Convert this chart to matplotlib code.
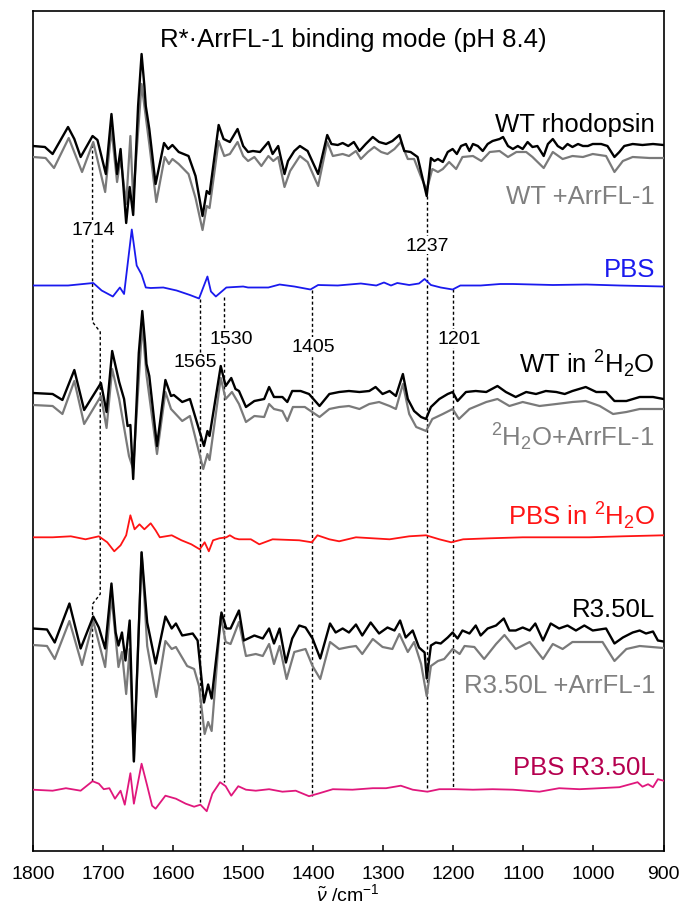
import matplotlib.pyplot as plt

plt.rcParams['font.family'] = ['Liberation Sans', 'DejaVu Sans']
plt.rcParams['mathtext.fontset'] = 'custom'
plt.rcParams['mathtext.rm'] = 'Liberation Sans'
plt.rcParams['mathtext.it'] = 'Liberation Sans:italic'
plt.rcParams['mathtext.default'] = 'regular'

# difference spectra, (wavenumber, dA) pairs, arbitrary units
wt_rho = [(1800, 0), (1783, -1), (1772, -8), (1750, 19), (1741, 7), (1732, -11), (1715, 10),
          (1708, 6), (1696, -28), (1688, 32), (1680, -28), (1675, -3), (1667, -77), (1662, -41),
          (1657, -69), (1650, 40), (1645, 92), (1641, 60), (1639, 40), (1634, 17), (1625, -38),
          (1613, 3), (1607, -3),
          (1601, 1), (1592, -6), (1578, -10), (1568, -30), (1558, -70), (1552, -45), (1548, -48),
          (1535, 21), (1528, 7), (1519, 4), (1508, 17), (1500, 0), (1493, -6), (1486, -5),
          (1476, -6), (1464, 4), (1458, -8), (1450, 0), (1441, -28), (1436, -15), (1427, -5),
          (1419, 0), (1408, -5), (1393, -28), (1380, 11), (1374, 2), (1365, 1), (1358, 3),
          (1350, 0), (1342, 4), (1334, -5), (1325, 2), (1315, 9), (1306, 4), (1296, 2), (1287, 5),
          (1277, 11), (1270, -5), (1261, -6), (1251, -11), (1238, -50), (1232, -12), (1227, -15),
          (1222, -13), (1215, -16), (1208, -6), (1201, -3), (1195, -8), (1189, 0), (1182, 2),
          (1177, -5), (1172, 2), (1165, 0), (1158, -5), (1151, 2), (1144, 5), (1134, 7), (1129, 9),
          (1122, 0), (1115, -3), (1108, 0), (1101, -3), (1094, 4), (1087, -1), (1080, 0),
          (1071, -10), (1065, 2), (1058, 7), (1051, 0), (1044, -3), (1037, 2), (1030, -1),
          (1022, 2), (1015, 0), (1008, 0), (1001, 2), (989, 2), (980, 0), (970, -11), (963, -6),
          (956, 0), (944, 2), (930, 1), (915, 2), (900, 1)]

wt_arr = [(1800, 1), (1782, 0), (1770, -10), (1749, 20), (1730, -14), (1714, 16), (1697, -34),
          (1688, 29), (1680, -24), (1675, 0), (1667, -46), (1661, 22), (1657, -41), (1645, 74),
          (1639, 41), (1634, 14), (1624, -44), (1612, 1), (1606, -6), (1601, -1), (1592, -6),
          (1578, -16), (1568, -40), (1558, -72), (1552, -48), (1548, -50), (1535, 17), (1527, 2),
          (1519, 4), (1508, 16), (1500, 2), (1493, -3), (1484, 1), (1474, -8), (1464, 2),
          (1457, -3), (1450, 1), (1441, -29), (1433, -13), (1419, 2), (1408, -4), (1393, -28),
          (1380, 16), (1372, 2), (1358, 4), (1349, 2), (1339, 7), (1332, -1), (1322, 6),
          (1313, 11), (1303, 6), (1294, 4), (1284, 9), (1275, 16), (1265, -1), (1256, -1),
          (1246, -19), (1238, -32), (1230, -11), (1222, -14), (1215, -11), (1206, -4),
          (1196, -11), (1187, 1), (1172, 2), (1160, -3), (1148, 6), (1134, 7), (1122, 1),
          (1110, 6), (1096, 6), (1087, 1), (1071, -10), (1058, 6), (1044, -1), (1030, 2),
          (1015, 1), (1001, 4), (982, 2), (970, -14), (958, -3), (944, 1), (920, 0), (900, 0)]

pbs = [(1800, 0), (1750, 0), (1714, 2.5), (1702, -5), (1686, -11), (1676, -2), (1670, -8.5),
       (1659, 56), (1652, 20), (1645, 11), (1639, -2), (1632, -2.5), (1614, -2), (1595, -5),
       (1576, -9.5), (1563, -13), (1551, 9), (1546, -6), (1539, -11), (1524, -2), (1500, -1),
       (1493, -2), (1464, -2), (1448, 1), (1427, -1), (1404, -4), (1393, 0.5), (1365, 0),
       (1332, 2), (1310, 0), (1299, 3), (1289, 0), (1280, 2.5), (1263, 0.5), (1249, 2),
       (1241, 6.5), (1232, 0.5), (1218, -2), (1201, -4), (1190, 0), (1161, 0), (1133, 1.5),
       (1115, 1.5), (1058, 0.5), (1010, 1), (963, 0), (900, -1)]

wt_d2o = [(1800, 0), (1772, -1), (1758, -7), (1741, 23), (1727, -17), (1703, 10), (1695, -19),
          (1687, 42), (1677, 11), (1670, -6), (1665, -33), (1661, -32), (1657, -86), (1649, 40),
          (1644, 82), (1640, 50),
          (1638, 29), (1634, 17), (1623, -53), (1611, 13), (1603, -3), (1599, -2), (1587, -9),
          (1576, -6), (1556, -53), (1551, -38), (1548, -43), (1532, 27), (1525, 7), (1517, 15),
          (1511, 4), (1506, 2), (1496, -14), (1484, -8), (1470, -6), (1463, 6), (1456, -4),
          (1444, -4), (1437, -9), (1430, 2), (1418, 2), (1406, -1), (1391, -13), (1377, -1),
          (1363, 1), (1349, 2), (1334, 1), (1320, 2), (1311, 6), (1301, -1), (1291, 2),
          (1282, -3), (1272, 19), (1265, -6), (1256, -18), (1246, -24), (1239, -26), (1232, -14),
          (1220, -6), (1208, -1), (1201, 1), (1194, -8), (1182, 1), (1168, 2), (1153, 1),
          (1137, 7), (1125, 1), (1111, -4), (1096, 1), (1082, -1), (1068, 2), (1053, 1),
          (1041, -1), (1030, 2), (1011, 6), (996, 1), (982, 1), (970, -8), (953, -8), (934, -4),
          (915, -4), (900, -6)]

d2o_arr = [(1800, 0), (1772, -1), (1758, -9), (1741, 24), (1727, -19), (1703, 9), (1695, -23),
           (1687, 36), (1677, 6), (1663, -51), (1657, -64), (1644, 81), (1638, 30), (1623, -49),
           (1611, 13), (1603, -4), (1587, -16), (1576, -11), (1557, -64), (1551, -49),
           (1548, -55), (1532, 27), (1525, 6), (1516, 13), (1506, 1), (1496, -17), (1484, -11),
           (1470, -12), (1463, 1), (1456, -4), (1444, -6), (1437, -16), (1429, -2), (1412, -2),
           (1391, -12), (1377, -4), (1363, -2), (1349, -1), (1334, -4), (1320, 1), (1306, 3),
           (1291, -1), (1282, -4), (1272, 21), (1263, -9), (1253, -22), (1239, -26), (1230, -14),
           (1215, -9), (1201, -4), (1192, -14), (1177, -4), (1153, 3), (1137, 6), (1120, -1),
           (1101, 3), (1077, -1), (1053, 1), (1030, 3), (1011, 4), (991, -1), (972, -9),
           (953, -7), (934, -4), (900, -4)]

pbs_d2o = [(1800, 0), (1772, 0), (1746, 1), (1725, -2), (1706, 1), (1694, -5), (1684, -14),
           (1675, -8), (1667, 2), (1661, 22), (1655, 8), (1648, 13), (1641, 8), (1632, 14),
           (1625, 7), (1619, 0), (1602, 2), (1588, -3), (1574, -7), (1562, -12), (1555, -5),
           (1549, -14), (1543, -3), (1534, -1), (1524, 0), (1519, 2), (1512, -1), (1506, -2),
           (1489, -2), (1477, -7), (1458, -2), (1420, -3), (1402, -5), (1394, 2), (1377, -2),
           (1363, -4), (1339, 0), (1315, -1), (1291, -2), (1263, 1), (1239, 2), (1220, -2),
           (1203, -5), (1186, -2), (1148, -1), (1101, 0), (1053, 0), (1006, 0), (958, 1),
           (900, 2)]

r350l = [(1800, 0), (1780, -1), (1769, -14), (1748, 25), (1732, -20), (1714, 12), (1706, 1),
         (1697, -20), (1688, 45), (1682, -4), (1678, -17), (1673, -4), (1668, -32), (1662, 8),
         (1656, -133), (1645, 76), (1637, 6), (1625, -35), (1611, 12), (1602, 0), (1596, 5),
         (1587, -7), (1572, -5), (1565, -12), (1556, -74), (1550, -56), (1545, -70), (1531, 16),
         (1524, 0), (1518, 0), (1506, 18), (1499, -12), (1484, -7), (1472, -10), (1463, 0),
         (1456, -15), (1448, 0), (1439, -34), (1430, -10), (1420, 3), (1411, 1), (1401, -10),
         (1390, -30), (1376, 5), (1368, -4), (1358, 0), (1349, -4), (1339, 4), (1330, -7),
         (1318, 6), (1306, -5), (1294, 1), (1284, -2), (1276, 8), (1268, -9), (1258, -2),
         (1249, -19), (1241, -24), (1238, -50), (1232, -17), (1225, -14), (1218, -15),
         (1208, -9), (1201, -4), (1194, -10), (1187, -2), (1177, -5), (1168, 3), (1161, -7),
         (1151, 0), (1139, 3), (1128, 10), (1120, -2), (1111, -2), (1101, 1), (1091, -2),
         (1083, 5), (1072, -12), (1061, 5), (1049, 0), (1037, 3), (1025, -2), (1013, 3),
         (1001, -2), (982, 0), (970, -15), (958, -9), (944, -4), (934, -2), (925, -5), (915, -3),
         (908, -12), (900, -13)]

r350l_arr = [(1800, 0), (1780, -1), (1769, -14), (1748, 24), (1730, -20), (1714, 24),
             (1697, -22), (1688, 49), (1678, -22), (1673, -7), (1667, -49), (1662, -4),
             (1656, -116), (1645, 93), (1637, -1), (1624, -52), (1611, 4), (1602, -4),
             (1596, -2), (1580, -21), (1570, -24), (1563, -41), (1555, -89), (1550, -77),
             (1545, -86), (1532, 29), (1525, 3), (1518, 1), (1506, 23), (1496, -11), (1482, -9),
             (1472, -11), (1463, 1), (1456, -19), (1448, -1), (1438, -34), (1427, -7), (1411, -4),
             (1401, -21), (1390, -34), (1376, 3), (1363, -4), (1349, -2), (1339, -1), (1330, -9),
             (1315, 6), (1301, -2), (1287, -4), (1277, 11), (1265, -7), (1256, 3), (1246, -19),
             (1238, -51), (1232, -21), (1222, -16), (1213, -14), (1201, -4), (1191, -9),
             (1184, -1), (1170, -2), (1156, -14), (1139, 1), (1127, 10), (1111, -4), (1091, 3),
             (1072, -14), (1058, 1), (1044, -4), (1030, 3), (1011, 3), (987, 3), (970, -16),
             (953, -4), (934, -1), (900, -3)]

pbs_r350l = [(1800, 0), (1772, -1), (1753, 1.5), (1732, -1), (1715, 8.5), (1706, 6),
             (1699, 0.5), (1691, 1.5), (1683, -9), (1675, -1), (1669, -15), (1661, 16.5),
             (1656, -14), (1645, 26), (1637, 4), (1630, -16), (1625, -19), (1611, -6),
             (1596, -9), (1582, -14), (1570, -17), (1561, -15), (1552, -21.5), (1544, -4),
             (1533, 7.5), (1525, 3.5), (1517, -6), (1507, 3.5), (1496, 0), (1482, -1),
             (1463, 0.5), (1444, -2), (1425, -1), (1406, -6.5), (1391, -3.5), (1372, 0.5),
             (1344, 0), (1315, 1.5), (1296, 1.5), (1275, 4), (1258, 0), (1237, -2), (1220, 0.5),
             (1197, 0.5), (1172, 0), (1144, 0.5), (1115, 0), (1077, -2), (1049, 1.5),
             (1020, 0.5), (991, 1.5), (963, 2.5), (937, 7.5), (930, 3), (922, 5.5), (915, 2.5),
             (908, 10.5), (900, 9)]

# marked bands (label, line position)
band_labels = ['1714', '1565', '1530', '1405', '1237', '1201']
band_pos = [1715, 1561, 1528, 1402, 1238, 1201]

names = ['WT rhodopsin', 'WT +ArrFL-1', 'PBS', r'WT in $^{2}$H$_{2}$O',
         r'$^{2}$H$_{2}$O+ArrFL-1', r'PBS in $^{2}$H$_{2}$O', 'R3.50L', 'R3.50L +ArrFL-1',
         'PBS R3.50L']

# ---- layout
traces = [wt_rho, wt_arr, pbs, wt_d2o, d2o_arr, pbs_d2o, r350l, r350l_arr, pbs_r350l]
offsets = [705, 693, 565.5, 458, 446, 313.7, 222.5, 206, 61.3]
line_cols = ['black', '#7a7a7a', '#1a1aee', 'black', '#7a7a7a', '#ff1414',
             'black', '#7a7a7a', '#e0177c']
text_cols = ['black', '#808080', '#1a1aee', 'black', '#808080', '#ff1414',
             'black', '#808080', '#b5004f']
widths = [1.7, 1.6, 1.3, 1.7, 1.6, 1.3, 1.7, 1.6, 1.3]
label_y = [720, 648, 574.7, 478.7, 405.3, 327, 235.3, 158.7, 77]
draw_order = [1, 0, 2, 4, 3, 5, 7, 6, 8]

fig = plt.figure(figsize=(6.81, 9.04), dpi=100)
ax = fig.add_axes([33 / 681, 52 / 904, 630.5 / 681, 840 / 904])

for i in draw_order:
    x, y = zip(*traces[i])
    ax.plot(x, [v + offsets[i] for v in y], color=line_cols[i], lw=widths[i],
            solid_joinstyle='round', zorder=3)

for i, name in enumerate(names):
    ax.text(912, label_y[i], name, color=text_cols[i], fontsize=18.5,
            ha='right', va='baseline', zorder=5)

ax.text(1343, 805, 'R*·ArrFL-1 binding mode (pH 8.4)', fontsize=18.5,
        ha='center', va='baseline', zorder=5)

# dotted guide lines
dots = dict(color='black', lw=1.0, ls=(0, (2.2, 1.8)), zorder=2)
p0 = band_pos[0]
ax.plot([p0, p0, 1704, 1704, p0, p0], [706, 529, 519, 257, 247, 70], **dots)
guide_top = [552, 554, 561, 655, 562]
guide_bot = [47, 69, 55, 60, 62]
for p, t, b in zip(band_pos[1:], guide_top, guide_bot):
    ax.plot([p, p], [t, b], **dots)

lab_x = [1714, 1568.8, 1517.4, 1400.3, 1237, 1191.5]
lab_y = [617, 484.7, 508, 500, 601.3, 508]
for s, lx, ly in zip(band_labels, lab_x, lab_y):
    ax.text(lx, ly, s, fontsize=14, ha='center', va='baseline', zorder=4,
            bbox=dict(facecolor='white', edgecolor='none', pad=0.5))

ax.set_xlim(1800, 900)
ax.set_ylim(0, 840)
ax.set_xticks(range(1800, 899, -100))
ax.set_yticks([])
ax.tick_params(axis='x', direction='in', length=4, width=1.1, labelsize=14, pad=10)
for sp in ax.spines.values():
    sp.set_linewidth(1.2)
ax.set_xlabel(r'$\tilde{\mathit{\nu}}$ /cm$^{-1}$', fontsize=14, labelpad=0)

fig.savefig('out.png', dpi=100)
